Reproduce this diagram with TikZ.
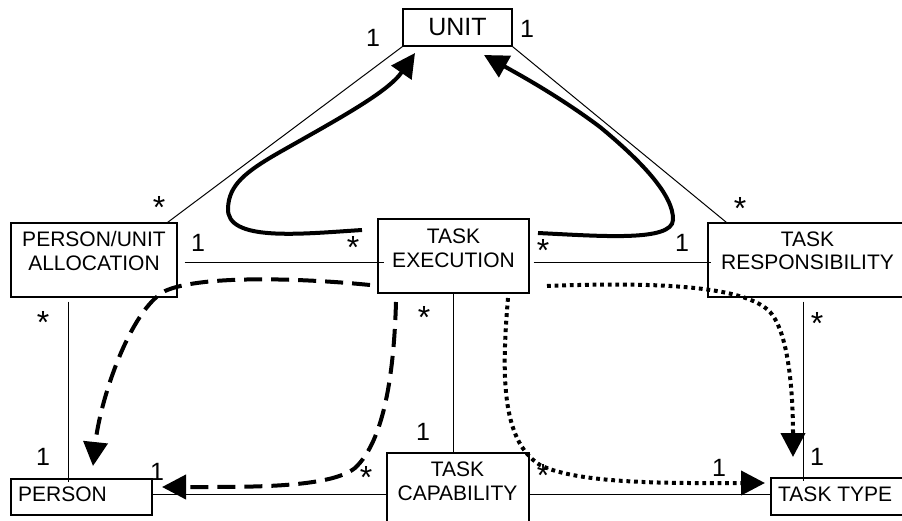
\documentclass[tikz,border=0pt]{standalone}
\usepackage{fontspec}
\setmainfont{Liberation Sans}
\usetikzlibrary{arrows.meta}
\tikzset{
  box/.style={draw, line width=1.4pt, rectangle, inner sep=0pt},
  txt/.style={font=\fontsize{21}{23.5}\selectfont, align=center, inner sep=0pt},
  card/.style={font=\fontsize{25}{25}\selectfont, inner sep=0pt},
  many/.style={font=\fontsize{32}{32}\selectfont, inner sep=0pt, anchor=north},
  assoc/.style={line width=1pt},
  flow/.style={line width=4pt, -{Triangle[length=24pt,width=24pt]}},
  dashflow/.style={flow, dash pattern=on 18pt off 9pt},
  dotflow/.style={flow, dash pattern=on 3.8pt off 3.8pt}
}
\begin{document}
\begin{tikzpicture}[x=1pt, y=-1pt]
\useasboundingbox (0,0) rectangle (902,520);
\clip (0,0) rectangle (902,520);

% class boxes
\node[box, minimum width=109pt, minimum height=37pt] (unit)   at (457.5,27.5) {};
\node[box, minimum width=166pt, minimum height=74pt] (pua)    at (94,260) {};
\node[box, minimum width=151pt, minimum height=74pt] (te)     at (453.5,256) {};
\node[box, minimum width=202pt, minimum height=74pt] (tr)     at (809,260) {};
\node[box, minimum width=141pt, minimum height=36pt] (person) at (81.5,497) {};
\node[box, minimum width=142pt, minimum height=82pt] (tc)     at (458,494) {};
\node[box, minimum width=139pt, minimum height=37pt] (tt)     at (840.5,496.5) {};

% class names
\node[txt, font=\fontsize{25}{25}\selectfont] (unitT) at (457.5,27.5) {UNIT};
\node[txt] (puaT)    at (94,251) {PERSON/UNIT\\ALLOCATION};
\node[txt] (teT)     at (453.5,248.5) {TASK\\EXECUTION};
\node[txt] (trT)     at (807.5,251) {TASK\\RESPONSIBILITY};
\node[txt, anchor=west] (personT) at (18,494) {PERSON};
\node[txt] (tcT)     at (457.5,481.5) {TASK\\CAPABILITY};
\node[txt, anchor=west] (ttT) at (778,494) {TASK TYPE};

% associations
\draw[assoc] (unit.south west) -- ([shift={(-10,0)}]pua.north east);
\draw[assoc] (unit.south east) -- ([shift={(19,0)}]tr.north west);
\draw[assoc] ([shift={(7,2)}]pua.east) -- ([shift={(7,2)}]pua.east -| te.west);
\draw[assoc] ([shift={(4,6)}]te.east) -- ([shift={(4,6)}]te.east -| tr.west);
\draw[assoc] ([shift={(58,4)}]pua.south west) -- ([shift={(58,4)}]pua.south west |- person.north);
\draw[assoc] (te.south) -- (te.south |- tc.north);
\draw[assoc] (tc.west) -- (tc.west -| person.east);
\draw[assoc] (tc.east) -- (tc.east -| tt.west);
\draw[assoc] ([shift={(96,4)}]tr.south west) -- ([shift={(96,4)}]tr.south west |- tt.north);

% multiplicities
\node[card] (m1) at (373,38) {1};
\node[card] (m2) at (527,29) {1};
\node[card] (m3) at (198,243) {1};
\node[card] (m4) at (682,243) {1};
\node[card] (m5) at (43,457) {1};
\node[card] (m6) at (423,432) {1};
\node[card] (m7) at (157,472) {1};
\node[card] (m8) at (719,468) {1};
\node[card] (m9) at (817,457) {1};
\node[many] (s1) at (159,196) {*};
\node[many] (s2) at (353,236) {*};
\node[many] (s3) at (543,239) {*};
\node[many] (s4) at (740,197) {*};
\node[many] (s5) at (43,311) {*};
\node[many] (s6) at (424,306) {*};
\node[many] (s7) at (366,466) {*};
\node[many] (s8) at (543,464) {*};
\node[many] (s9) at (817,312) {*};

% start and end points of the navigation paths
\coordinate (a1) at (362,230);
\coordinate (a1e) at (415,53);
\coordinate (a2) at (538,233);
\coordinate (a2e) at (484,55);
\coordinate (b1) at (370,285);
\coordinate (b1e) at (93,466);
\coordinate (b2) at (396,302);
\coordinate (b2e) at (162,487);
\coordinate (c1) at (547,286);
\coordinate (c1e) at (793,457);
\coordinate (c2) at (508,298);
\coordinate (c2e) at (765,483);

% navigation paths
\draw[flow] (a1) .. controls (300,234) and (226,242) .. (228,208)
  .. controls (229,185) and (245,172) .. (280,152)
  .. controls (340,118) and (388,92) .. (a1e);
\draw[flow] (a2) .. controls (600,236) and (672,242) .. (673,220)
  .. controls (674,195) and (640,160) .. (600,127)
  .. controls (560,97) and (520,75) .. (a2e);
\draw[dashflow] (b1) .. controls (300,278) and (200,275) .. (165,291)
  .. controls (130,310) and (100,400) .. (b1e);
\draw[dashflow] (b2) .. controls (394,370) and (385,440) .. (355,468)
  .. controls (330,488) and (250,487) .. (b2e);
\draw[dotflow] (c1) .. controls (650,282) and (740,285) .. (768,310)
  .. controls (790,330) and (793,400) .. (c1e);
\draw[dotflow] (c2) .. controls (502,370) and (500,440) .. (540,465)
  .. controls (580,485) and (680,483) .. (c2e);
\end{tikzpicture}
\end{document}
